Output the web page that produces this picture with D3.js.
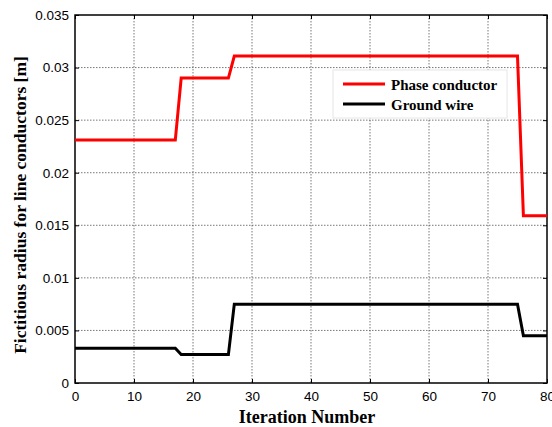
<!DOCTYPE html>
<html>
<head>
<meta charset="utf-8">
<script src="https://cdn.jsdelivr.net/npm/d3@7"></script>
<style>
  body { margin: 0; background: #fff; }
  svg { display: block; }
</style>
</head>
<body>
<div id="chart"></div>
<script>
// Series data (step profiles)
const phaseIter = [0, 17, 18, 26, 27, 75, 76, 80];
const phaseRadius = [0.0231, 0.0231, 0.0290, 0.0290, 0.0311, 0.0311, 0.0159, 0.0159];
const groundIter = [0, 17, 18, 26, 27, 75, 76, 80];
const groundRadius = [0.0033, 0.0033, 0.0027, 0.0027, 0.0075, 0.0075, 0.0045, 0.0045];

const xTicks = [0, 10, 20, 30, 40, 50, 60, 70, 80];
const yTicks = [0, 0.005, 0.01, 0.015, 0.02, 0.025, 0.03, 0.035];
const yTickLabels = ["0", "0.005", "0.01", "0.015", "0.02", "0.025", "0.03", "0.035"];
const seriesNames = ["Phase conductor", "Ground wire"];
const seriesColors = ["#ff0000", "#000000"];

const width = 552, height = 427;
const margin = { top: 15, right: 5, bottom: 44, left: 75 };
const plotW = width - margin.left - margin.right;
const plotH = height - margin.top - margin.bottom;

const svg = d3.select("#chart").append("svg")
    .attr("width", width)
    .attr("height", height);

const g = svg.append("g")
    .attr("transform", `translate(${margin.left},${margin.top})`);

const x = d3.scaleLinear().domain([0, 80]).range([0, plotW]);
const y = d3.scaleLinear().domain([0, 0.035]).range([plotH, 0]);

// grid
g.append("g").selectAll("line")
    .data(xTicks.slice(1, -1))
    .enter().append("line")
    .attr("x1", d => x(d)).attr("x2", d => x(d))
    .attr("y1", 0).attr("y2", plotH)
    .attr("stroke", "#555").attr("stroke-width", 0.8)
    .attr("stroke-dasharray", "1.5,1.5");

g.append("g").selectAll("line")
    .data(yTicks.slice(1, -1))
    .enter().append("line")
    .attr("x1", 0).attr("x2", plotW)
    .attr("y1", d => y(d)).attr("y2", d => y(d))
    .attr("stroke", "#555").attr("stroke-width", 0.8)
    .attr("stroke-dasharray", "1.5,1.5");

// axes with inward ticks on all sides
const tickFont = "Liberation Sans, Arial, sans-serif";
const xAxis = d3.axisBottom(x).tickValues(xTicks).tickSizeInner(-4).tickSizeOuter(0).tickPadding(8);
const yAxis = d3.axisLeft(y).tickValues(yTicks).tickFormat((d, i) => yTickLabels[i]).tickSizeInner(-4).tickSizeOuter(0).tickPadding(6);

const gx = g.append("g").attr("transform", `translate(0,${plotH})`).call(xAxis);
const gy = g.append("g").call(yAxis);
g.append("g").call(d3.axisTop(x).tickValues(xTicks).tickSizeInner(-4).tickSizeOuter(0).tickFormat(""));
g.append("g").attr("transform", `translate(${plotW},0)`)
    .call(d3.axisRight(y).tickValues(yTicks).tickSizeInner(-4).tickSizeOuter(0).tickFormat(""));

g.selectAll(".domain").remove();
g.selectAll(".tick line").attr("stroke", "#000");
[gx, gy].forEach(a => a.selectAll("text")
    .attr("font-family", tickFont)
    .attr("font-size", 13.5)
    .attr("fill", "#000"));

g.append("rect")
    .attr("width", plotW).attr("height", plotH)
    .attr("fill", "none").attr("stroke", "#000").attr("stroke-width", 1.5);

// lines
const series = [
    phaseIter.map((d, i) => [d, phaseRadius[i]]),
    groundIter.map((d, i) => [d, groundRadius[i]])
];
const line = d3.line().x(d => x(d[0])).y(d => y(d[1]));

g.selectAll(".series")
    .data(series)
    .enter().append("path")
    .attr("class", "series")
    .attr("d", line)
    .attr("fill", "none")
    .attr("stroke", (d, i) => seriesColors[i])
    .attr("stroke-width", 3)
    .attr("stroke-linejoin", "miter");

// legend
const serif = "Liberation Serif, Times New Roman, serif";
const legend = svg.append("g").attr("transform", "translate(333,70)");
legend.append("rect")
    .attr("width", 174).attr("height", 48)
    .attr("fill", "#fff").attr("stroke", "#e6e6e6").attr("stroke-width", 1);
seriesNames.forEach((name, i) => {
    const yy = 14 + i * 20;
    legend.append("line")
        .attr("x1", 10).attr("x2", 52)
        .attr("y1", yy).attr("y2", yy)
        .attr("stroke", seriesColors[i]).attr("stroke-width", 3);
    legend.append("text")
        .attr("x", 58).attr("y", yy + 5.5)
        .attr("font-family", serif).attr("font-weight", "bold").attr("font-size", 15)
        .text(name);
});

// axis titles
svg.append("text")
    .attr("x", 307).attr("y", 423)
    .attr("text-anchor", "middle")
    .attr("font-family", serif).attr("font-weight", "bold").attr("font-size", 18)
    .text("Iteration Number");

svg.append("text")
    .attr("transform", "translate(26,205) rotate(-90)")
    .attr("text-anchor", "middle")
    .attr("font-family", serif).attr("font-weight", "bold").attr("font-size", 17.5)
    .text("Fictitious radius for line conductors [m]");
</script>
</body>
</html>
